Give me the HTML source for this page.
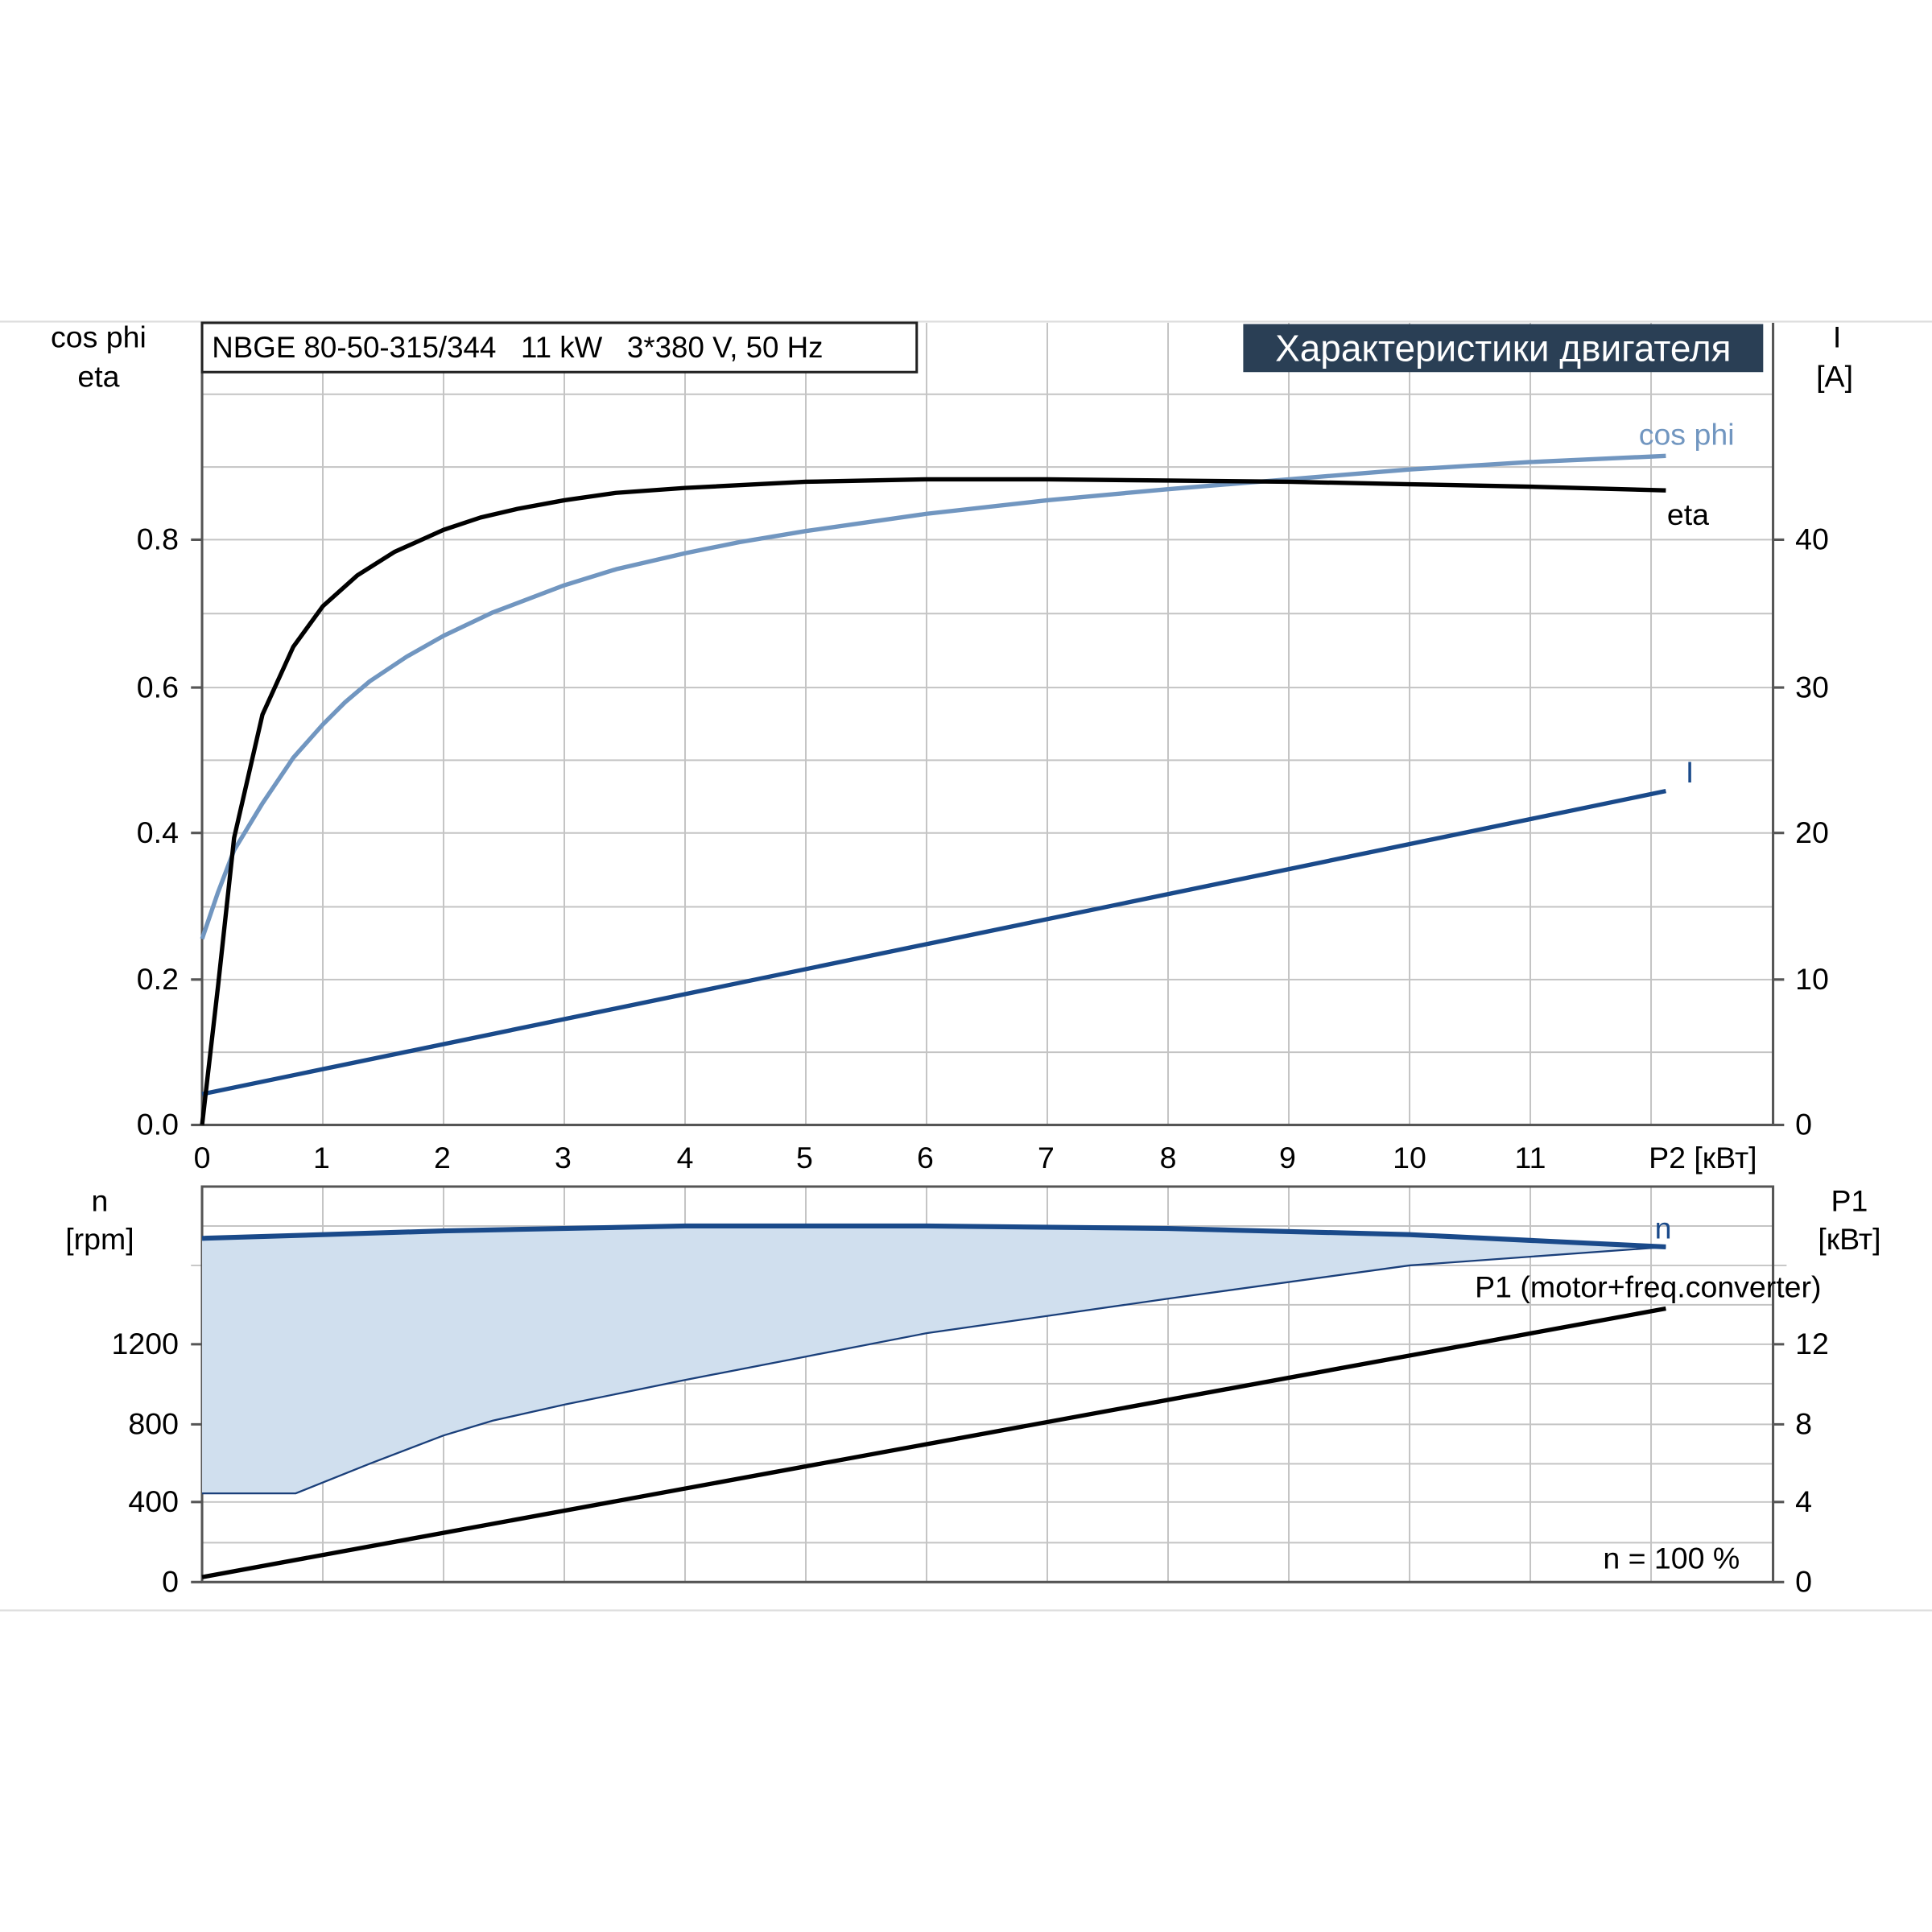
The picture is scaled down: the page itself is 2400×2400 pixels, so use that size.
<!DOCTYPE html>
<html><head><meta charset="utf-8"><style>html,body{margin:0;padding:0;background:#fff}svg{display:block}</style></head><body>
<svg width="2400" height="2400" viewBox="0 0 1568 1568" xmlns="http://www.w3.org/2000/svg" font-family="Liberation Sans, DejaVu Sans, sans-serif" font-size="24.5">
<rect width="1568" height="1568" fill="#fff"/>
<line x1="0" y1="261" x2="1568" y2="261" stroke="#ddd" stroke-width="1.5"/>
<line x1="0" y1="1307" x2="1568" y2="1307" stroke="#ddd" stroke-width="1.5"/>
<g stroke="#c4c4c4" stroke-width="1.3">
<path d="M262 262V913M360 262V913M458 262V913M556 262V913M654 262V913M752 262V913M850 262V913M948 262V913M1046 262V913M1144 262V913M1242 262V913M1340 262V913"/>
<path d="M164 320H1439M164 379H1439M164 438H1439M164 498H1439M164 558H1439M164 617H1439M164 676H1439M164 736H1439M164 795H1439M164 854H1439"/>
<path d="M262 963V1284M360 963V1284M458 963V1284M556 963V1284M654 963V1284M752 963V1284M850 963V1284M948 963V1284M1046 963V1284M1144 963V1284M1242 963V1284M1340 963V1284"/>
<path d="M164 995H1439M155 1027H1450M164 1059H1439M164 1091H1439M164 1123H1439M164 1156H1439M164 1188H1439M164 1219H1439M164 1252H1439"/>
</g>
<g stroke="#555" stroke-width="2" fill="none">
<path d="M164 262V913H1439V262"/>
<path d="M164 963H1439V1284H164Z"/>
<path d="M155 438H164M155 558H164M155 676H164M155 795H164M155 913H164M1439 438H1448M1439 558H1448M1439 676H1448M1439 795H1448M1439 913H1448"/>
<path d="M155 1091H164M155 1156H164M155 1219H164M155 1284H164M1439 1091H1448M1439 1156H1448M1439 1219H1448M1439 1284H1448"/>
</g>
<path d="M164 1005 L360 999 L556 995 L752 995 L948 997 L1144 1002 L1352 1012 L1144 1027 L948 1054 L752 1082 L654 1101 L556 1120 L458 1140 L400 1153 L360 1165 L300 1188 L240 1212 L164 1212Z" fill="#d0dfee"/>
<path d="M164 1212 L240 1212 L300 1188 L360 1165 L400 1153 L458 1140 L556 1120 L654 1101 L752 1082 L948 1054 L1144 1027 L1352 1012" fill="none" stroke="#1a3f7a" stroke-width="1.5"/>
<path d="M164 1005 L360 999 L556 995 L752 995 L948 997 L1144 1002 L1352 1012" fill="none" stroke="#1a4a8a" stroke-width="4"/>
<line x1="164" y1="1280" x2="1352" y2="1062" stroke="#000" stroke-width="3.5"/>
<path d="M164 888 L1352 642" stroke="#1a4a8a" stroke-width="3.5" fill="none"/>
<path d="M164 762 L177 724 L190 690 L213 652 L238 615 L262 588 L280 570 L300 553 L330 533 L360 516 L400 497 L458 475 L500 462 L556 449 L600 440 L654 431 L752 417 L850 406 L948 397 L1046 389 L1144 381 L1242 375 L1352 370" stroke="#7196c0" stroke-width="3.5" fill="none" stroke-linejoin="round"/>
<path d="M164 913 L177 800 L190 680 L213 580 L238 525 L262 492 L290 467 L320 448 L360 430 L390 420 L420 413 L458 406 L500 400 L556 396 L654 391 L752 389 L850 389 L948 390 L1046 391 L1144 393 L1242 395 L1352 398" stroke="#000" stroke-width="3.5" fill="none" stroke-linejoin="round"/>
<rect x="164" y="262" width="580" height="40" fill="#fff" stroke="#222" stroke-width="2"/>
<text x="172" y="290" font-size="24" style="white-space:pre" xml:space="preserve">NBGE 80-50-315/344   11 kW   3*380 V, 50 Hz</text>
<rect x="1009" y="263" width="422" height="39" fill="#2a3f55"/>
<text x="1220" y="293" font-size="30" fill="#fff" text-anchor="middle">Характеристики двигателя</text>
<g text-anchor="middle">
<text x="80" y="282">cos phi</text><text x="80" y="314">eta</text>
<text x="1491" y="282">I</text><text x="1489" y="314">[A]</text>
<text x="81" y="983">n</text><text x="81" y="1014">[rpm]</text>
<text x="1501" y="983">P1</text><text x="1501" y="1014">[кВт]</text>
<text x="164" y="948">0</text><text x="261" y="948">1</text><text x="359" y="948">2</text><text x="457" y="948">3</text><text x="556" y="948">4</text><text x="653" y="948">5</text><text x="751" y="948">6</text><text x="849" y="948">7</text><text x="948" y="948">8</text><text x="1045" y="948">9</text><text x="1144" y="948">10</text><text x="1242" y="948">11</text><text x="1382" y="948">P2 [кВт]</text>
</g>
<g text-anchor="end">
<text x="145" y="446">0.8</text><text x="145" y="566">0.6</text><text x="145" y="684">0.4</text><text x="145" y="803">0.2</text><text x="145" y="921">0.0</text>
<text x="145" y="1099">1200</text><text x="145" y="1164">800</text><text x="145" y="1227">400</text><text x="145" y="1292">0</text>
</g>
<g>
<text x="1457" y="446">40</text><text x="1457" y="566">30</text><text x="1457" y="684">20</text><text x="1457" y="803">10</text><text x="1457" y="921">0</text>
<text x="1457" y="1099">12</text><text x="1457" y="1164">8</text><text x="1457" y="1227">4</text><text x="1457" y="1292">0</text>
</g>
<text x="1330" y="361" fill="#7196c0">cos phi</text>
<text x="1353" y="426">eta</text>
<text x="1368" y="635" fill="#1a4a8a">I</text>
<text x="1343" y="1005" fill="#1a4a8a">n</text>
<text x="1197" y="1053">P1 (motor+freq.converter)</text>
<text x="1301" y="1273" style="white-space:pre" xml:space="preserve">n = 100 %</text>
</svg>
</body></html>
